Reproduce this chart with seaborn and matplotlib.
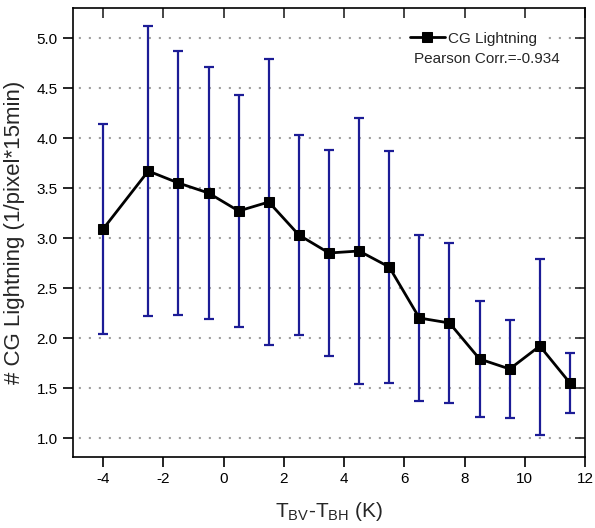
import matplotlib
matplotlib.use("Agg")
import matplotlib.pyplot as plt
import seaborn as sns
import numpy as np
import pandas as pd

x_vals = [-4, -2.5, -1.5, -0.5, 0.5, 1.5, 2.5, 3.5, 4.5, 5.5, 6.5, 7.5, 8.5, 9.5, 10.5, 11.5]
y_vals = [3.09, 3.67, 3.55, 3.45, 3.27, 3.36, 3.03, 2.85, 2.87, 2.71, 2.20, 2.15, 1.79, 1.69, 1.92, 1.55]
err_top = [4.14, 5.12, 4.87, 4.71, 4.43, 4.79, 4.03, 3.88, 4.20, 3.87, 3.03, 2.95, 2.37, 2.18, 2.79, 1.85]
err_bot = [2.04, 2.22, 2.23, 2.19, 2.11, 1.93, 2.03, 1.82, 1.54, 1.55, 1.37, 1.35, 1.21, 1.20, 1.03, 1.25]
y_ticks = [1.0, 1.5, 2.0, 2.5, 3.0, 3.5, 4.0, 4.5, 5.0]
x_ticks = [-4, -2, 0, 2, 4, 6, 8, 10, 12]

sns.set_style("white")
plt.rcParams['font.family'] = ['Liberation Sans', 'DejaVu Sans']

df = pd.DataFrame({"x": x_vals, "y": y_vals})

fig = plt.figure(figsize=(5.95, 5.28), dpi=100)
ax = fig.add_axes([73/595, 71/528, 512/595, 449/528])

for yt in y_ticks:
    ax.axhline(yt, color="#a0a0a0", linestyle=(2, (1, 3.8)), linewidth=1.5, zorder=0)

y = np.array(y_vals)
yerr = np.vstack([y - np.array(err_bot), np.array(err_top) - y])
ax.errorbar(x_vals, y_vals, yerr=yerr, fmt="none", ecolor="#1c1c96",
            elinewidth=1.6, capsize=3.5, capthick=1.6, zorder=2)

sns.lineplot(data=df, x="x", y="y", ax=ax, color="black", linewidth=2,
             marker="s", markersize=6.5, markeredgecolor="black",
             label="CG Lightning", zorder=3)

ax.set_xlim(-5, 12)
ax.set_ylim(0.81, 5.3)
ax.set_xticks(x_ticks)
ax.set_xticklabels([str(t) for t in x_ticks])
ax.set_yticks(y_ticks)
ax.set_yticklabels([f"{t:.1f}" for t in y_ticks])
ax.tick_params(axis="both", which="both", direction="out", length=7, width=1.2,
               labelsize=11, colors="black", bottom=True, left=True, pad=4)
for s in ax.spines.values():
    s.set_color("black")
    s.set_linewidth(1.2)

axt = ax.secondary_xaxis("top")
axt.set_xticks(x_ticks)
axt.tick_params(direction="in", length=7, width=1.2, labeltop=False)
axr = ax.secondary_yaxis("right")
axr.set_yticks(y_ticks)
axr.tick_params(direction="in", length=7, width=1.2, labelright=False)
for a in (axt, axr):
    for s in a.spines.values():
        s.set_visible(False)

ax.set_xlabel(r"T$_{\mathregular{BV}}$-T$_{\mathregular{BH}}$ (K)", fontsize=15, labelpad=10)
ax.set_ylabel("# CG Lightning (1/pixel*15min)", fontsize=16, labelpad=8)

leg = ax.legend(loc="center left", bbox_to_anchor=(0.652, 0.932), frameon=True,
                fontsize=11, handlelength=2.3, handletextpad=0.2,
                borderpad=0.2, borderaxespad=0)
leg.get_frame().set_edgecolor("white")
leg.get_frame().set_facecolor("white")
leg.get_frame().set_alpha(1)
ax.text(0.951, 0.887, "Pearson Corr.=-0.934", transform=ax.transAxes,
        ha="right", va="center", fontsize=11,
        bbox=dict(facecolor="white", edgecolor="none", pad=1), zorder=5)

fig.savefig("out.png", dpi=100)
